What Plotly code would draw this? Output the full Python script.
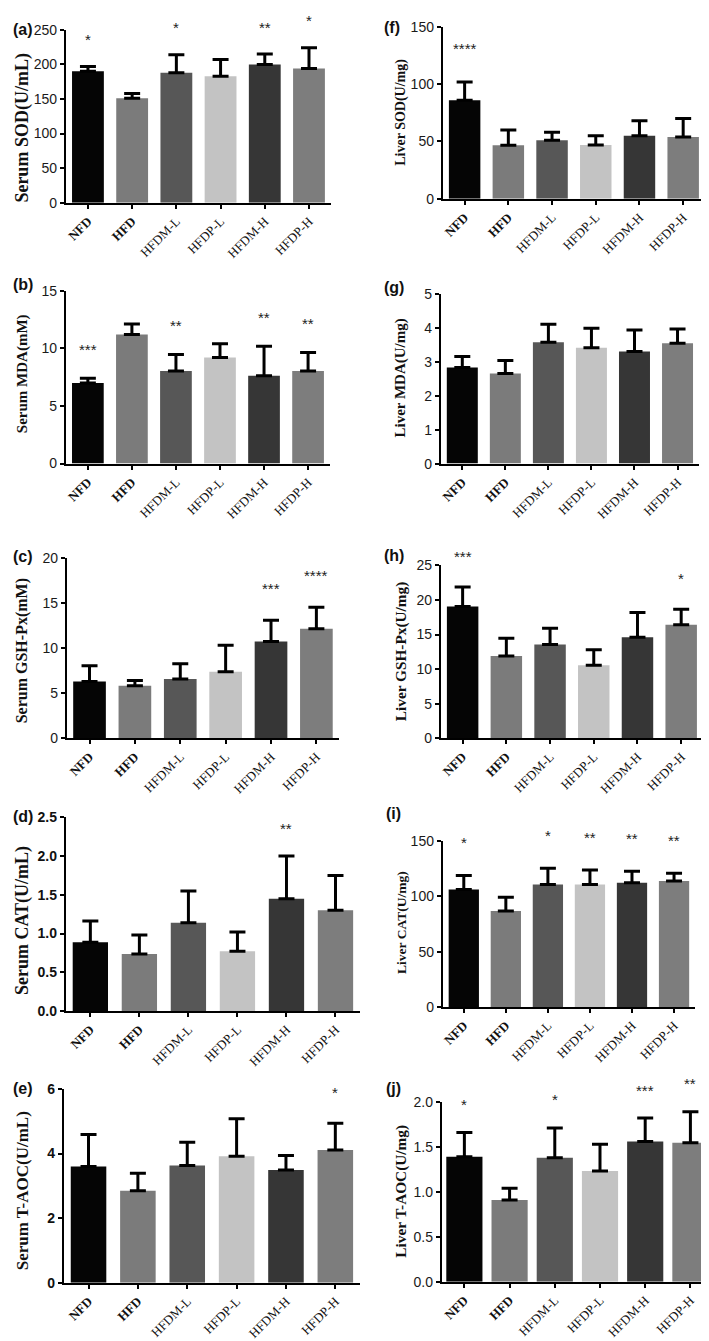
import plotly.graph_objects as go

# ---------------- data ----------------
groups = ["NFD", "HFD", "HFDM-L", "HFDP-L", "HFDM-H", "HFDP-H"]
tick_labels = ["<b>NFD</b>", "<b>HFD</b>", "HFDM-L", "HFDP-L", "HFDM-H", "HFDP-H"]
bar_colors = ["#050505", "#7b7b7b", "#575757", "#c3c3c3", "#363636", "#7d7d7d"]

serum_sod_mean = [190, 151, 188, 183, 200, 194]
serum_sod_err = [7, 7, 26, 24, 15, 30]
serum_sod_sig = ["*", "", "*", "", "**", "*"]

serum_mda_mean = [7.0, 11.2, 8.03, 9.2, 7.63, 8.03]
serum_mda_err = [0.4, 0.9, 1.43, 1.2, 2.55, 1.61]
serum_mda_sig = ["***", "", "**", "", "**", "**"]

serum_gsh_mean = [6.31, 5.83, 6.6, 7.41, 10.75, 12.18]
serum_gsh_err = [1.76, 0.59, 1.7, 2.94, 2.39, 2.39]
serum_gsh_sig = ["", "", "", "", "***", "****"]

serum_cat_mean = [0.886, 0.737, 1.14, 0.77, 1.45, 1.30]
serum_cat_err = [0.274, 0.243, 0.41, 0.25, 0.55, 0.45]
serum_cat_sig = ["", "", "", "", "**", ""]

serum_taoc_mean = [3.6, 2.85, 3.63, 3.92, 3.49, 4.11]
serum_taoc_err = [0.99, 0.54, 0.72, 1.16, 0.45, 0.83]
serum_taoc_sig = ["", "", "", "", "", "*"]

liver_sod_mean = [86, 46.7, 51, 47, 55, 54]
liver_sod_err = [16, 13.3, 7, 8, 13, 16]
liver_sod_sig = ["****", "", "", "", "", ""]

liver_mda_mean = [2.83, 2.65, 3.57, 3.41, 3.30, 3.54]
liver_mda_err = [0.32, 0.38, 0.53, 0.57, 0.63, 0.42]
liver_mda_sig = ["", "", "", "", "", ""]

liver_gsh_mean = [19.05, 11.9, 13.57, 10.57, 14.6, 16.4]
liver_gsh_err = [2.81, 2.58, 2.33, 2.23, 3.6, 2.27]
liver_gsh_sig = ["***", "", "", "", "", "*"]

liver_cat_mean = [106.3, 86.7, 110.8, 110.8, 112.3, 114.0]
liver_cat_err = [12.5, 12.5, 14.5, 13.0, 10.4, 6.9]
liver_cat_sig = ["*", "", "*", "**", "**", "**"]

liver_taoc_mean = [1.39, 0.91, 1.38, 1.23, 1.56, 1.545]
liver_taoc_err = [0.27, 0.13, 0.33, 0.30, 0.26, 0.345]
liver_taoc_sig = ["*", "", "*", "", "***", "**"]

# ---------------- layout spec (pixels) ----------------
W, H = 709, 1341
panels = [
    dict(letter="(a)", title="Serum SOD(U/mL)", mean=serum_sod_mean, err=serum_sod_err, sig=serum_sod_sig,
         ymax=250, dtick=50, fmt="", x0=56, x1=322, ytop=14, ybot=189, tsize=18, tx=13, ty=113, bold=False,
         gap=27, lx=13, ly=14, barw=0.72),
    dict(letter="(b)", title="Serum MDA(mM)", mean=serum_mda_mean, err=serum_mda_err, sig=serum_mda_sig,
         ymax=15, dtick=5, fmt="", x0=56, x1=321, ytop=278, ybot=453, tsize=15, tx=12.5, ty=362, bold=False,
         gap=29, lx=13, ly=272, barw=0.72),
    dict(letter="(c)", title="Serum GSH-Px(mM)", mean=serum_gsh_mean, err=serum_gsh_err, sig=serum_gsh_sig,
         ymax=20, dtick=5, fmt="", x0=57, x1=330, ytop=549, ybot=731, tsize=16, tx=12, ty=642, bold=False,
         gap=32, lx=13, ly=547, barw=0.72),
    dict(letter="(d)", title="Serum CAT(U/mL)", mean=serum_cat_mean, err=serum_cat_err, sig=serum_cat_sig,
         ymax=2.5, dtick=0.5, fmt=".1f", x0=56, x1=351, ytop=811, ybot=1007, tsize=18, tx=12, ty=915, bold=True,
         gap=28, lx=13, ly=810, barw=0.72),
    dict(letter="(e)", title="Serum T-AOC(U/mL)", mean=serum_taoc_mean, err=serum_taoc_err, sig=serum_taoc_sig,
         ymax=6, dtick=2, fmt="", x0=54, x1=351, ytop=1086, ybot=1282, tsize=17, tx=12.5, ty=1189, bold=True,
         gap=31, lx=13, ly=1085, barw=0.72),
    dict(letter="(f)", title="Liver SOD(U/mg)", mean=liver_sod_mean, err=liver_sod_err, sig=liver_sod_sig,
         ymax=150, dtick=50, fmt="", x0=434, x1=697, ytop=11, ybot=185, tsize=14, tx=392, ty=97, bold=False,
         gap=33, lx=383, ly=12, barw=0.72),
    dict(letter="(g)", title="Liver MDA(U/mg)", mean=liver_mda_mean, err=liver_mda_err, sig=liver_mda_sig,
         ymax=5, dtick=1, fmt="", x0=432, x1=691, ytop=281, ybot=453, tsize=15, tx=392, ty=366, bold=False,
         gap=30, lx=385, ly=275, barw=0.72),
    dict(letter="(h)", title="Liver GSH-Px(U/mg)", mean=liver_gsh_mean, err=liver_gsh_err, sig=liver_gsh_sig,
         ymax=25, dtick=5, fmt="", x0=432, x1=695, ytop=556, ybot=731, tsize=15.3, tx=392, ty=643, bold=False,
         gap=31, lx=385, ly=546, barw=0.72),
    dict(letter="(i)", title="Liver CAT(U/mg)", mean=liver_cat_mean, err=liver_cat_err, sig=liver_cat_sig,
         ymax=150, dtick=50, fmt="", x0=434, x1=687, ytop=835, ybot=1003, tsize=13.5, tx=392, ty=917, bold=False,
         gap=33, lx=385, ly=807, barw=0.72),
    dict(letter="(j)", title="Liver T-AOC(U/mg)", mean=liver_taoc_mean, err=liver_taoc_err, sig=liver_taoc_sig,
         ymax=2.0, dtick=0.5, fmt=".1f", x0=433, x1=705, ytop=1099, ybot=1281, tsize=15.3, tx=392, ty=1189, bold=False,
         gap=28, lx=385, ly=1085, barw=0.8),
]

fig = go.Figure()
layout = dict(width=W, height=H, margin=dict(l=0, r=0, t=0, b=0),
              paper_bgcolor="white", plot_bgcolor="white", showlegend=False)
annotations = []

for i, p in enumerate(panels, start=1):
    xa = "x" if i == 1 else f"x{i}"
    ya = "y" if i == 1 else f"y{i}"
    fig.add_trace(go.Bar(
        x=groups, y=p["mean"], xaxis=xa, yaxis=ya, width=p["barw"],
        marker=dict(color=bar_colors, line=dict(width=0)),
        error_y=dict(type="data", array=p["err"], arrayminus=[0] * len(groups), symmetric=False,
                     color="black", thickness=3, width=8),
    ))
    xkey = "xaxis" if i == 1 else f"xaxis{i}"
    ykey = "yaxis" if i == 1 else f"yaxis{i}"
    tickfont_y = dict(family="Liberation Sans", size=14, color="#1a1a1a")
    if p["bold"]:
        tickfont_y = dict(family="Liberation Sans", size=14, color="#111", weight="bold")
    layout[xkey] = dict(domain=[p["x0"] / W, p["x1"] / W], anchor=ya,
                        type="category", range=[-0.5, 5.5],
                        tickvals=groups, ticktext=tick_labels, tickangle=-45,
                        tickfont=dict(family="Liberation Serif", size=13, color="#111"),
                        showline=True, linecolor="black", linewidth=2,
                        ticks="outside", ticklen=4, tickwidth=2, tickcolor="black",
                        showgrid=False, zeroline=False, fixedrange=True)
    layout[ykey] = dict(domain=[1 - p["ybot"] / H, 1 - p["ytop"] / H], anchor=xa,
                        range=[0, p["ymax"]], dtick=p["dtick"], tick0=0, tickformat=p["fmt"],
                        tickfont=tickfont_y,
                        showline=True, linecolor="black", linewidth=2,
                        ticks="outside", ticklen=4, tickwidth=2, tickcolor="black",
                        showgrid=False, zeroline=False, fixedrange=True)
    # y-axis title
    annotations.append(dict(text=f"<b>{p['title']}</b>", textangle=-90,
                            x=p["tx"] / W, y=1 - p["ty"] / H, xref="paper", yref="paper",
                            xanchor="center", yanchor="middle", showarrow=False,
                            font=dict(family="Liberation Serif", size=p["tsize"], color="#111")))
    # panel letter
    annotations.append(dict(text=p["letter"], x=p["lx"] / W, y=1 - p["ly"] / H,
                            xref="paper", yref="paper", xanchor="center", yanchor="middle",
                            showarrow=False,
                            font=dict(family="Liberation Sans", size=16, color="#111", weight="bold")))
    # significance stars (anchored at error-bar top, lifted by a pixel gap)
    for g, m, e, s in zip(groups, p["mean"], p["err"], p["sig"]):
        if s:
            annotations.append(dict(text=s, x=g, y=m + e, xref=xa, yref=ya,
                                    xanchor="center", yanchor="middle", yshift=p["gap"],
                                    showarrow=False,
                                    font=dict(family="Liberation Sans", size=15, color="#222")))

layout["annotations"] = annotations
fig.update_layout(**layout)
fig.write_html("out.html")
